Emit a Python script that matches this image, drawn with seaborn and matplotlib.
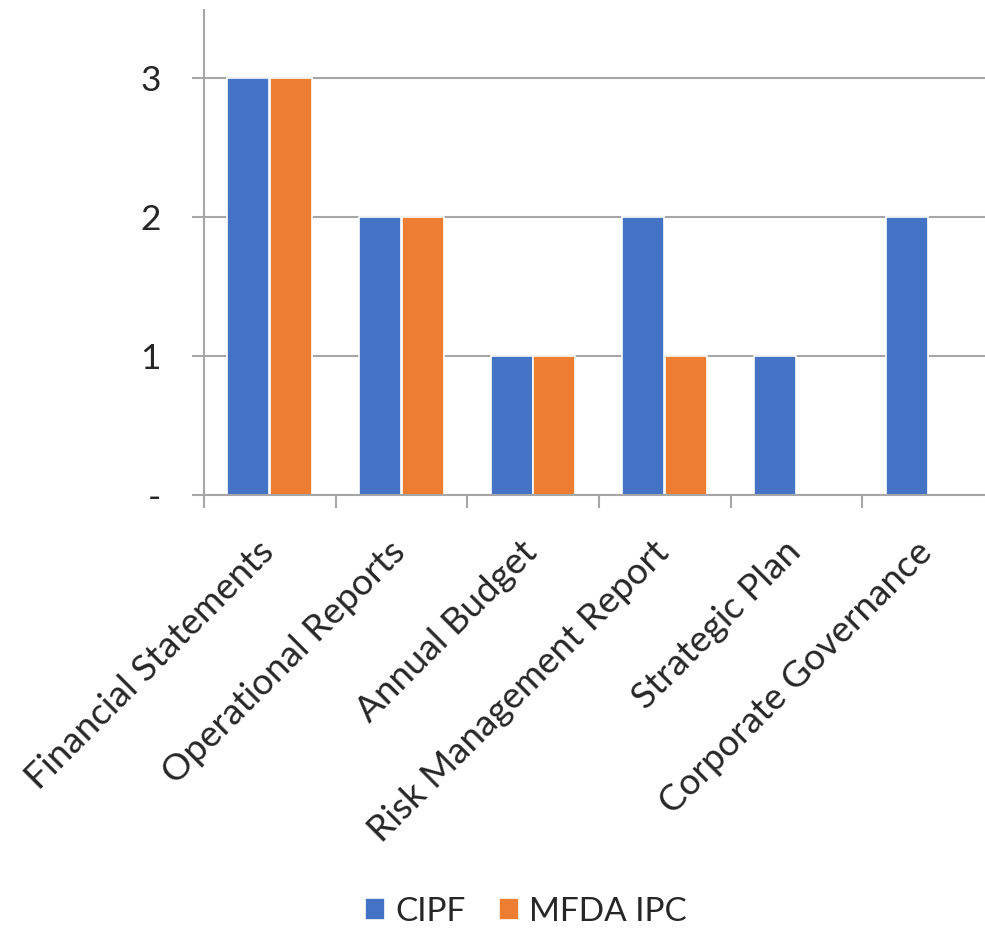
import matplotlib
matplotlib.use("Agg")
import matplotlib.pyplot as plt
import matplotlib.transforms as mtransforms
import seaborn as sns
import pandas as pd

# values
categories = ["Financial Statements", "Operational Reports", "Annual Budget",
              "Risk Management Report", "Strategic Plan", "Corporate Governance"]
cipf = [3, 2, 1, 2, 1, 2]
mfda_ipc = [3, 2, 1, 1, 0, 0]
series = ["CIPF", "MFDA IPC"]
colors = ["#4472C4", "#ED7D31"]
ytick_labels = ["-", "1", "2", "3"]

df = pd.DataFrame({
    "category": categories * 2,
    "series": [series[0]] * len(categories) + [series[1]] * len(categories),
    "value": cipf + mfda_ipc,
})

sns.set_style("white")
plt.rcParams['font.family'] = ['Lato', 'DejaVu Sans']
grid_col = "#A6A6A6"

fig = plt.figure(figsize=(9.85, 9.38), dpi=100)
ax = fig.add_axes([0.207, 0.4723, 0.802, 0.517])

sns.barplot(data=df, x="category", y="value", hue="series", order=categories,
            hue_order=series, palette=colors, width=0.65, gap=0.02,
            edgecolor="white", linewidth=1.2, saturation=1, ax=ax, legend=True)

ax.set_xlim(-0.5, len(categories) - 0.5)
ax.set_ylim(0, 3.49)
ax.set_yticks(range(4))
ax.set_yticklabels(ytick_labels)
ax.yaxis.grid(True, color=grid_col, linewidth=1.5)
ax.set_axisbelow(True)
ax.set_xlabel("")
ax.set_ylabel("")

for side in ["top", "right"]:
    ax.spines[side].set_visible(False)
for side in ["left", "bottom"]:
    ax.spines[side].set_color(grid_col)
    ax.spines[side].set_linewidth(1.5)

ax.tick_params(axis="y", which="major", direction="out", length=9, width=1.5,
               color=grid_col, pad=22, labelsize=25.5, left=True)
ax.set_xticks(range(len(categories)))
ax.set_xticklabels(categories, rotation=45, ha="right", rotation_mode="anchor")
ax.tick_params(axis="x", which="major", length=0, pad=26, labelsize=26.5)
ax.set_xticks([i - 0.5 for i in range(len(categories) + 1)], minor=True)
ax.tick_params(axis="x", which="minor", direction="out", length=9, width=1.5,
               color=grid_col, bottom=True)

# nudge the rotated labels slightly left/down
shift = mtransforms.ScaledTranslation(-0.13, -0.04, fig.dpi_scale_trans)
for lbl in ax.get_xticklabels():
    lbl.set_transform(lbl.get_transform() + shift)

handles, labels = ax.get_legend_handles_labels()
ax.get_legend().remove()
fig.legend(handles, labels, loc="center", bbox_to_anchor=(0.534, 0.028), ncol=2,
           frameon=False, fontsize=24, handlelength=0.6, handleheight=0.6,
           handletextpad=0.3, columnspacing=1.0)

fig.savefig("out.png", dpi=100)
